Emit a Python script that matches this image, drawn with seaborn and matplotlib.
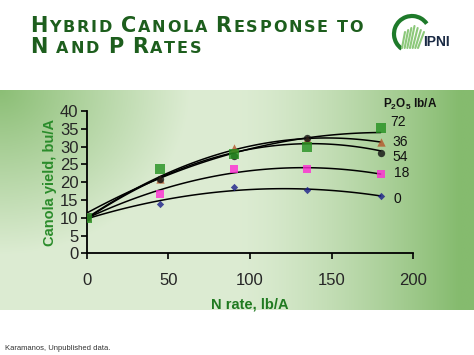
import numpy as np
import pandas as pd
import matplotlib
matplotlib.use("Agg")
import matplotlib.pyplot as plt
from matplotlib.patches import Arc
import seaborn as sns

# data
n_rate = [0, 45, 90, 135, 180]
p0 = [10.0, 13.9, 18.5, 17.8, 16.1]
p18 = [10.2, 16.7, 23.8, 23.6, 22.3]
p36 = [10.1, 21.0, 29.7, 32.0, 31.3]
p54 = [10.1, 20.8, 27.4, 32.5, 28.1]
p72 = [10.0, 23.8, 28.0, 30.0, 35.2]
series_names = ['0', '18', '36', '54', '72']

df = pd.DataFrame({'N': n_rate * 5,
                   'yield': p0 + p18 + p36 + p54 + p72,
                   'P': [s for s in series_names for _ in n_rate]})

sns.set_style('ticks')
plt.rcParams['font.family'] = ['Liberation Sans', 'DejaVu Sans']

fig = plt.figure(figsize=(4.74, 3.55), dpi=100)
fig.patch.set_facecolor('white')

# green gradient panel behind the chart
bg = fig.add_axes([0, 1 - 310 / 355, 1, 220 / 355], zorder=0)
u, v = np.meshgrid(np.linspace(0, 1, 300), np.linspace(0, 1, 150))
right = np.clip((u - 0.5) / 0.5, 0, 1) ** 1.4
topleft = np.clip(1 - np.sqrt((u / 0.4) ** 2 + ((1 - v) / 0.75) ** 2), 0, 1) * 0.85
t = np.clip(0.08 + np.maximum(right, topleft), 0, 1)
light = np.array([228, 240, 219]) / 255
dark = np.array([133, 187, 110]) / 255
img = light[None, None, :] * (1 - t[..., None]) + dark[None, None, :] * t[..., None]
bg.imshow(img, origin='lower', aspect='auto', extent=(0, 1, 0, 1))
bg.axis('off')

ax = fig.add_axes([86.7 / 474, 1 - 253.3 / 355, 326.6 / 474, 142.3 / 355], zorder=2)
ax.patch.set_alpha(0)

styles = {
    '0': dict(marker='D', color='#1c1f8a', s=14),
    '18': dict(marker='s', color='#ff2ad4', s=32),
    '36': dict(marker='^', color='#b5562a', s=36),
    '54': dict(marker='o', color='#111111', s=28),
    '72': dict(marker='s', color='#23901f', s=52),
}
label_off = {'72': (10, 6), '36': (12, 0), '54': (12, -4), '18': (13, 1), '0': (13, -3)}

for name in series_names:
    sub = df[df.P == name]
    st = styles[name]
    sns.regplot(data=sub, x='N', y='yield', order=2, ci=None, ax=ax,
                marker=st['marker'],
                scatter_kws={'s': st['s'], 'color': st['color'], 'zorder': 4, 'linewidths': 0},
                line_kws={'color': 'black', 'lw': 1.1, 'zorder': 3})
    ax.annotate(name, (sub.N.iloc[-1], sub['yield'].iloc[-1]),
                xytext=label_off[name], textcoords='offset pixels',
                fontsize=10, va='center', ha='left', color='#111111')

ax.set(xlim=(0, 200), ylim=(0, 40), xticks=range(0, 201, 50), yticks=range(0, 41, 5))
ax.set_xlabel('N rate, lb/A', fontsize=10.5, fontweight='bold', color='#207a20', labelpad=7)
ax.set_ylabel('Canola yield, bu/A', fontsize=10.5, fontweight='bold', color='#2b8c2b', labelpad=2)
ax.tick_params(labelsize=12, length=4, width=1.2, color='black', pad=2)
ax.tick_params(axis='x', pad=10)
sns.despine(ax=ax)
for sp in ('left', 'bottom'):
    ax.spines[sp].set_linewidth(1.3)
    ax.spines[sp].set_color('black')

fig.text(410 / 474, 1 - 104 / 355, r'P$_\mathregular{2}$O$_\mathregular{5}$ lb/A',
         fontsize=8.5, fontweight='bold', ha='center', va='center', color='#111111')

# small caps title
title_color = '#1d5e1d'
renderer = fig.canvas.get_renderer()


def small_caps(line, x0, y0, big=15, small=11.5):
    x = x0
    for word in line.split(' '):
        for ch in word:
            size = big if ch.isupper() else small
            txt = fig.text(x, y0, ch.upper(), fontsize=size, fontweight='bold',
                           color=title_color, family='DejaVu Sans', va='baseline',
                           transform=None)
            w = txt.get_window_extent(renderer).width
            x += w + 1.8
        x += 7


small_caps('Hybrid Canola Response to', 30, 355 - 32)
small_caps('N and P Rates', 30, 355 - 53)

# rough IPNI logo
logo = fig.add_axes([390 / 474, 1 - 56 / 355, 70 / 474, 46 / 355])
logo.set_xlim(0, 70)
logo.set_ylim(0, 46)
logo.axis('off')
logo.add_patch(Arc((22, 22), 36, 36, theta1=35, theta2=235, lw=3, color='#1e7a2a'))
for i, xx in enumerate(np.linspace(12, 28, 7)):
    logo.plot([xx, xx + 3 + i * 0.5], [8, 30 - abs(i - 3) * 2], color='#8cc87a', lw=1.5)
logo.text(33, 10, 'IPNI', fontsize=10, fontweight='bold', color='#1a2a44', va='baseline')

fig.text(5 / 474, 1 - 348 / 355, 'Karamanos, Unpublished data.', fontsize=5.5,
         color='#333333', va='center')

fig.savefig('out.png', dpi=100)
